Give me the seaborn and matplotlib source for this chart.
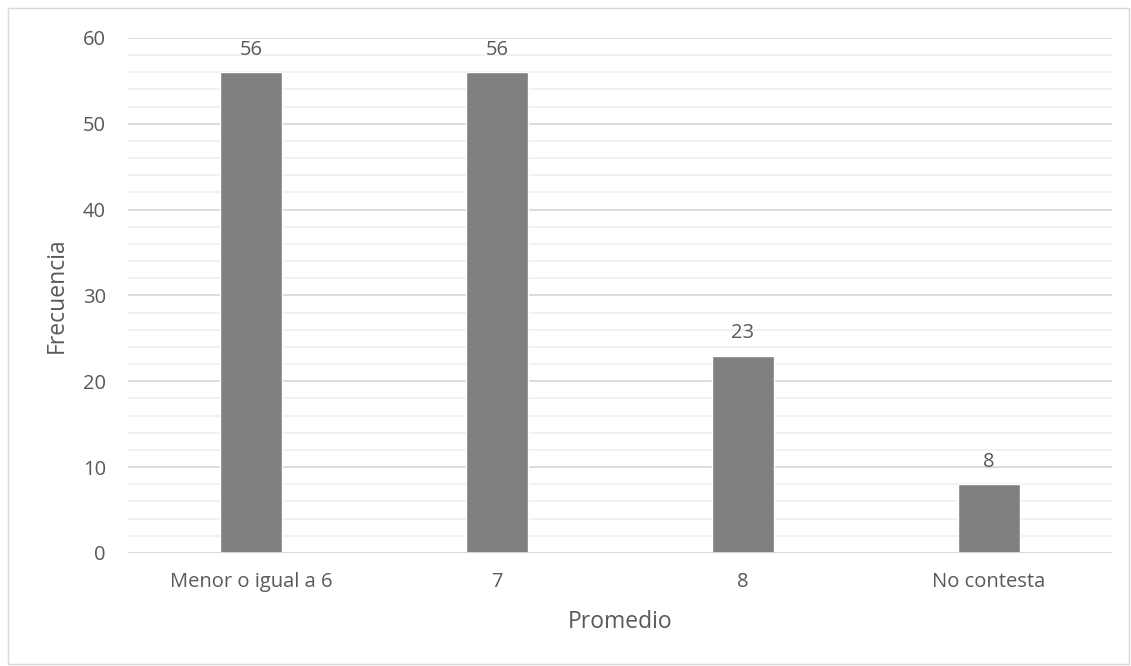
import numpy as np
import pandas as pd
import seaborn as sns
from matplotlib import pyplot as plt
from matplotlib.ticker import MultipleLocator

# Data
categorias = ['Menor o igual a 6', '7', '8', 'No contesta']
frecuencias = [56, 56, 23, 8]

df = pd.DataFrame({'Promedio': categorias, 'Frecuencia': frecuencias})

sns.set_style('white')
plt.rcParams['font.family'] = ['Open Sans', 'DejaVu Sans']

texto = '#595959'
fig = plt.figure(figsize=(11.31, 6.66), dpi=100)
ax = fig.add_axes([0.1132, 0.1697, 0.8700, 0.7733])

sns.barplot(data=df, x='Promedio', y='Frecuencia', color='#808080',
            saturation=1, width=0.25, ax=ax, zorder=3)

ax.set_ylim(0, 60)
ax.set_xlim(-0.5, 3.5)
ax.yaxis.set_major_locator(MultipleLocator(10))
ax.yaxis.set_minor_locator(MultipleLocator(2))
ax.grid(axis='y', which='major', color='#d9d9d9', lw=1.3, zorder=0)
ax.grid(axis='y', which='minor', color='#f0f0f0', lw=1.3, zorder=0)
ax.tick_params(axis='both', which='both', length=0, labelsize=14.5, colors=texto)
ax.tick_params(axis='x', pad=14)
ax.tick_params(axis='y', pad=16)
for s in ax.spines.values():
    s.set_visible(False)
ax.axhline(0, color='#d9d9d9', lw=1.3, zorder=4)

for c in ax.containers:
    ax.bar_label(c, padding=9, fontsize=14.5, color=texto)

ax.set_xlabel('Promedio', fontsize=16.5, color=texto, labelpad=13)
ax.set_ylabel('Frecuencia', fontsize=16.5, color=texto, labelpad=10)

# light border around the whole chart
borde = plt.Rectangle((0.007, 0.003), 0.991, 0.985, transform=fig.transFigure,
                      fill=False, edgecolor='#d9d9d9', lw=1)
fig.patches.append(borde)

fig.savefig('out.png', dpi=100)
